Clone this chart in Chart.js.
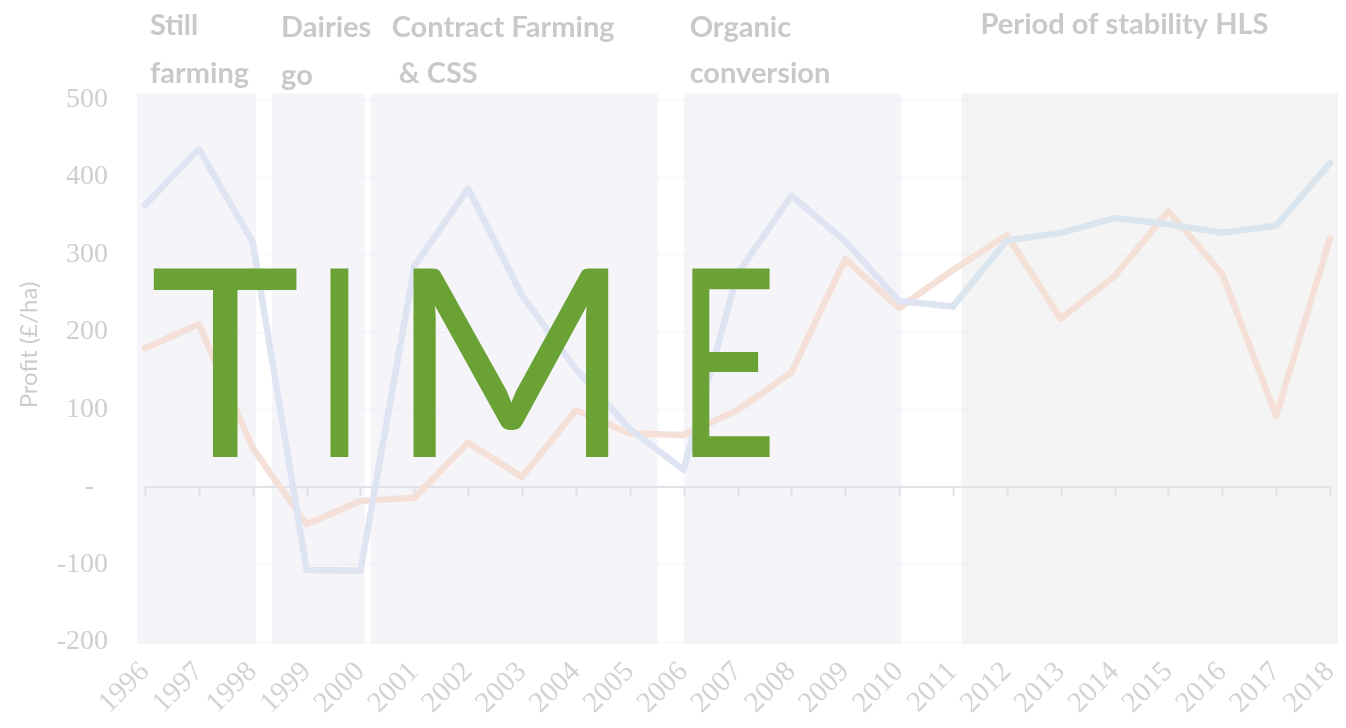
<!DOCTYPE html>
<html>
<head>
<meta charset="utf-8">
<script src="https://cdn.jsdelivr.net/npm/chart.js@4/dist/chart.umd.min.js"></script>
<style>
  html, body { margin: 0; padding: 0; background: #ffffff; }
  canvas { display: block; }
</style>
</head>
<body>
<canvas id="c" width="1346" height="728"></canvas>
<script>
// ---- data ----
const years = ['1996','1997','1998','1999','2000','2001','2002','2003','2004','2005','2006',
               '2007','2008','2009','2010','2011','2012','2013','2014','2015','2016','2017','2018'];
const seriesBlue   = [364, 436, 316, -107, -108, 285, 385, 247, 152, 75, 22,
                      275, 376, 317, 240, 233, 318, 328, 347, 339, 328, 337, 418];
const seriesOrange = [179, 210, 50, -48, -18, -14, 57, 13, 99, 69, 67,
                      99, 148, 294, 231, 280, 325, 217, 272, 356, 275, 92, 321];
const yTicks = [-200, -100, 0, 100, 200, 300, 400, 500];
// periods, in category units (index of year)
const periodNames  = [['Still', 'farming'], ['Dairies', 'go'], ['Contract Farming', ' & CSS'],
                      ['Organic', 'conversion'], ['Period of stability HLS']];
const periodStart  = [-0.15, 2.36, 4.19, 10.0, 15.16];
const periodEnd    = [2.06, 4.08, 9.52, 14.04, 22.15];
const overlayWord  = 'TIME';
const yTitle = 'Profit (£/ha)';

const bandColors = ['#f5f4f9', '#f5f4f9', '#f5f4f9', '#f5f4f9', '#f4f4f4'];
const labelOffsets = [13, 9, 21, 6, 19];
// ink extents of the overlay letters [left, right]
const letterBoxes = [[150, 297], [328, 351], [410, 610], [690, 772]];

const decor = {
  id: 'decor',
  beforeDraw(chart) {
    const {ctx, scales: {x, y}} = chart;
    ctx.save();
    const top = y.getPixelForValue(508);
    const bot = y.getPixelForValue(-203);
    for (let i = 0; i < periodStart.length; i++) {
      const x0 = x.getPixelForValue(periodStart[i]);
      const x1 = x.getPixelForValue(periodEnd[i]);
      ctx.fillStyle = bandColors[i];
      ctx.fillRect(x0, top, x1 - x0, bot - top);
    }
    ctx.restore();
  },
  beforeDatasetsDraw(chart) {
    const {ctx, scales: {x, y}} = chart;
    ctx.save();
    const y0 = y.getPixelForValue(0);
    ctx.strokeStyle = '#e2e1e9';
    ctx.lineWidth = 2;
    ctx.beginPath();
    ctx.moveTo(x.getPixelForValue(0), y0);
    ctx.lineTo(x.getPixelForValue(years.length - 1), y0);
    ctx.stroke();
    for (let i = 0; i < years.length; i++) {
      const px = Math.round(x.getPixelForValue(i)) + 0.5;
      ctx.beginPath();
      ctx.moveTo(px, y0);
      ctx.lineTo(px, y0 + 9);
      ctx.stroke();
    }
    ctx.restore();
  },
  afterDraw(chart) {
    const {ctx, scales: {x, y}} = chart;
    ctx.save();
    // period labels
    ctx.fillStyle = '#c9c9c9';
    ctx.font = 'bold 29px Lato';
    ctx.textAlign = 'left';
    ctx.textBaseline = 'alphabetic';
    const baselines = [[35, 83], [37, 85], [37, 83], [37, 83], [34]];
    for (let i = 0; i < periodNames.length; i++) {
      const lx = x.getPixelForValue(periodStart[i]) + labelOffsets[i];
      periodNames[i].forEach((t, k) => ctx.fillText(t, lx, baselines[i][k]));
    }
    // y title
    ctx.save();
    ctx.translate(29, 345);
    ctx.rotate(-Math.PI / 2);
    ctx.font = '24px Lato';
    ctx.fillStyle = '#cccccc';
    ctx.textAlign = 'center';
    ctx.textBaseline = 'middle';
    ctx.fillText(yTitle, 0, 0);
    ctx.restore();
    // big overlay word, letter by letter
    ctx.font = '100px Lato';
    const capH = ctx.measureText('T').actualBoundingBoxAscent;
    const size = 100 * 192 / capH;
    ctx.font = size + 'px Lato';
    ctx.fillStyle = '#6aa236';
    ctx.textAlign = 'left';
    ctx.textBaseline = 'alphabetic';
    overlayWord.split('').forEach((ch, i) => {
      const mm = ctx.measureText(ch);
      const ink = mm.actualBoundingBoxLeft + mm.actualBoundingBoxRight;
      const [l, r] = letterBoxes[i];
      const sx = (r - l) / ink;
      ctx.save();
      ctx.translate(l + mm.actualBoundingBoxLeft * sx, 457);
      ctx.scale(sx, 1);
      ctx.fillText(ch, 0, 0);
      ctx.restore();
    });
    ctx.restore();
  }
};

new Chart(document.getElementById('c'), {
  type: 'line',
  data: {
    labels: years,
    datasets: [
      {
        data: seriesBlue,
        borderColor: '#dfe4f3',
        segment: { borderColor: c => (c.p0DataIndex >= 15 ? '#dbe5ee' : '#dfe4f3') },
        borderWidth: 6.5, pointRadius: 0, tension: 0,
        borderCapStyle: 'round', borderJoinStyle: 'round'
      },
      {
        data: seriesOrange,
        borderColor: '#f5e0d7',
        borderWidth: 6.5, pointRadius: 0, tension: 0,
        borderCapStyle: 'round', borderJoinStyle: 'round'
      }
    ]
  },
  options: {
    responsive: false,
    animation: false,
    events: [],
    layout: { padding: { left: 0, right: 16, top: 99.5, bottom: 0 } },
    plugins: { legend: { display: false }, tooltip: { enabled: false }, title: { display: false } },
    scales: {
      x: {
        type: 'category',
        offset: false,
        grid: { display: false, drawTicks: false },
        border: { display: false },
        ticks: {
          font: { family: 'Liberation Serif', size: 29 },
          color: '#d3d3d3',
          minRotation: 45, maxRotation: 45,
          autoSkip: false,
          padding: 13
        },
        afterFit(s) { s.height = 86; s.paddingLeft = 0; s.paddingRight = 0; }
      },
      y: {
        min: -200, max: 500,
        afterBuildTicks(s) { s.ticks = yTicks.map(v => ({ value: v })); },
        grid: {
          drawTicks: false,
          lineWidth: 1,
          color: c => (c.tick && c.tick.value === 0 ? 'rgba(0,0,0,0)' : 'rgba(225,225,235,0.35)')
        },
        border: { display: false },
        ticks: {
          font: { family: 'Liberation Serif', size: 28 },
          color: '#cfcfcf',
          padding: 37,
          callback: v => (v === 0 ? '-\u00a0\u00a0' : String(v))
        },
        afterFit(s) { s.width = 145; s.paddingTop = 0; s.paddingBottom = 0; }
      }
    }
  },
  plugins: [decor]
});
</script>
</body>
</html>
